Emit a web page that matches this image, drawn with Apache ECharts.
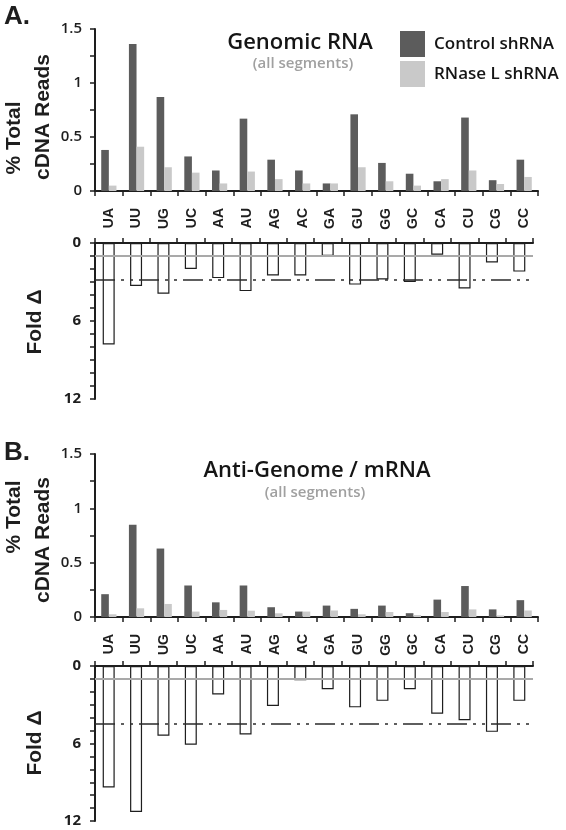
<!DOCTYPE html>
<html>
<head>
<meta charset="utf-8">
<script src="https://cdn.jsdelivr.net/npm/echarts@6/dist/echarts.min.js"></script>
<style>
html,body{margin:0;padding:0;background:#fff;}
#chart{width:566px;height:830px;}
</style>
</head>
<body>
<div id="chart"></div>
<script>
const categories = ['UA','UU','UG','UC','AA','AU','AG','AC','GA','GU','GG','GC','CA','CU','CG','CC'];

const genomicControl = [0.38,1.36,0.87,0.32,0.19,0.67,0.29,0.19,0.07,0.71,0.26,0.16,0.09,0.68,0.10,0.29];
const genomicRNaseL  = [0.05,0.41,0.22,0.17,0.07,0.18,0.11,0.07,0.07,0.22,0.09,0.05,0.11,0.19,0.065,0.13];
const genomicFold    = [7.8,3.3,3.9,2.0,2.7,3.7,2.5,2.5,1.0,3.2,2.8,3.0,0.9,3.5,1.5,2.2];
const genomicLines   = [1, 2.8];

const antiControl = [0.21,0.85,0.63,0.29,0.135,0.29,0.09,0.05,0.105,0.075,0.105,0.035,0.16,0.285,0.07,0.155];
const antiRNaseL  = [0.025,0.08,0.12,0.05,0.065,0.058,0.034,0.05,0.06,0.025,0.046,0.018,0.046,0.07,0.015,0.06];
const antiFold    = [9.4,11.3,5.4,6.1,2.2,5.3,3.1,1.1,1.8,3.2,2.7,1.8,3.7,4.2,5.1,2.7];
const antiLines   = [1, 4.5];

const readsTicks = [0, 0.5, 1, 1.5];
const foldTicks = [0, 6, 12];

const seriesNames = ['Control shRNA', 'RNase L shRNA'];

const DARK = '#5c5c5c', LIGHT = '#c9c9c9', INK = '#1e1e1e';
const sansBold = 'Liberation Sans';
const tickFont = 'Open Sans';

const chart = echarts.init(document.getElementById('chart'), null, {renderer: 'canvas'});

const grids = [
  {left: 95, top: 29, width: 443, height: 162},
  {left: 95, top: 243, width: 438, height: 156},
  {left: 95, top: 454, width: 443, height: 163},
  {left: 95, top: 666, width: 438, height: 155}
];

function catAxis(gi, isTop) {
  return {
    type: 'category', gridIndex: gi, data: categories,
    position: isTop ? 'bottom' : 'top',
    boundaryGap: true,
    axisLine: {lineStyle: {color: INK, width: 2}},
    axisTick: {show: true, length: 5, interval: 0, lineStyle: {color: INK, width: 1.5}},
    axisLabel: isTop ? {
      show: true, interval: 0, rotate: 90, margin: 17,
      fontFamily: sansBold, fontWeight: 'bold', fontSize: 14, color: INK
    } : {show: false},
    splitLine: {show: false}
  };
}

function readsAxis(gi) {
  return {
    type: 'value', gridIndex: gi, min: 0, max: 1.5, interval: 0.25,
    axisLine: {show: true, lineStyle: {color: INK, width: 2}},
    axisTick: {show: true, length: 5, lineStyle: {color: INK, width: 1.5}},
    axisLabel: {
      margin: 13, fontFamily: tickFont, fontSize: 15, fontWeight: 600, color: INK,
      formatter: v => readsTicks.some(t => Math.abs(t - v) < 1e-9) ? String(v) : ''
    },
    splitLine: {show: false}
  };
}

function foldAxis(gi) {
  return {
    type: 'value', gridIndex: gi, min: 0, max: 12, interval: 1, inverse: true,
    axisLine: {show: true, lineStyle: {color: INK, width: 2}},
    axisTick: {show: true, length: 5, lineStyle: {color: INK, width: 1.5}},
    axisLabel: {
      margin: 14, fontFamily: tickFont, fontSize: 15, fontWeight: 'bold', color: INK,
      formatter: v => foldTicks.indexOf(v) >= 0 ? String(v) : ''
    },
    splitLine: {show: false}
  };
}

function readsSeries(name, data, color, idx) {
  return {
    name: name, type: 'bar', xAxisIndex: idx, yAxisIndex: idx, data: data,
    barGap: '0%', barCategoryGap: '45%',
    itemStyle: {color: color}, animation: false, silent: true
  };
}

function foldSeries(data, lines, idx) {
  return {
    name: 'Fold', type: 'bar', xAxisIndex: idx, yAxisIndex: idx, data: data,
    barWidth: 12,
    itemStyle: {color: '#ffffff', borderColor: INK, borderWidth: 1.2},
    animation: false, silent: true,
    markLine: {
      silent: true, animation: false, symbol: ['none', 'none'],
      label: {show: false},
      data: [
        {yAxis: lines[0], lineStyle: {color: '#a9a9a9', width: 2, type: 'solid'}},
        {yAxis: lines[1], lineStyle: {color: '#2a2a2a', width: 1.6, type: [20, 6, 3, 6, 3, 6]}}
      ]
    }
  };
}

function text(str, x, y, opts) {
  return Object.assign({
    type: 'text', x: x, y: y, silent: true,
    style: Object.assign({
      text: str, fill: INK, align: 'center', verticalAlign: 'middle',
      font: 'bold 21px "' + sansBold + '"'
    }, opts && opts.style || {})
  }, opts && opts.rotation !== undefined ? {rotation: opts.rotation} : {});
}

const R = Math.PI / 2;

const option = {
  backgroundColor: '#ffffff',
  animation: false,
  grid: grids,
  xAxis: [catAxis(0, true), catAxis(1, false), catAxis(2, true), catAxis(3, false)],
  yAxis: [readsAxis(0), foldAxis(1), readsAxis(2), foldAxis(3)],
  legend: {
    data: seriesNames, orient: 'vertical', left: 395, top: 26,
    itemWidth: 25, itemHeight: 26, itemGap: 4, icon: 'rect',
    selectedMode: false,
    textStyle: {fontFamily: tickFont, fontSize: 17, fontWeight: 600, color: '#151515', padding: [0, 0, 0, 4]}
  },
  series: [
    readsSeries(seriesNames[0], genomicControl, DARK, 0),
    readsSeries(seriesNames[1], genomicRNaseL, LIGHT, 0),
    foldSeries(genomicFold, genomicLines, 1),
    readsSeries(seriesNames[0], antiControl, DARK, 2),
    readsSeries(seriesNames[1], antiRNaseL, LIGHT, 2),
    foldSeries(antiFold, antiLines, 3)
  ],
  graphic: [
    text('A.', 4, 17, {style: {align: 'left', font: 'bold 26px "' + sansBold + '"'}}),
    text('B.', 4, 453, {style: {align: 'left', font: 'bold 26px "' + sansBold + '"'}}),
    text('Genomic RNA', 300, 43, {style: {font: '600 22px "' + tickFont + '"', fill: '#151515'}}),
    text('(all segments)', 303, 64, {style: {font: '600 15px "' + tickFont + '"', fill: '#a0a0a0'}}),
    text('Anti-Genome / mRNA', 317, 471, {style: {font: '600 22px "' + tickFont + '"', fill: '#151515'}}),
    text('(all segments)', 315, 493, {style: {font: '600 15px "' + tickFont + '"', fill: '#a0a0a0'}}),
    text('% Total', 14, 138, {rotation: R}),
    text('cDNA Reads', 43, 117, {rotation: R}),
    text('Fold \u0394', 35, 322, {rotation: R}),
    text('% Total', 14, 517, {rotation: R}),
    text('cDNA Reads', 43, 540, {rotation: R}),
    text('Fold \u0394', 35, 743, {rotation: R})
  ]
};

chart.setOption(option);
</script>
</body>
</html>
